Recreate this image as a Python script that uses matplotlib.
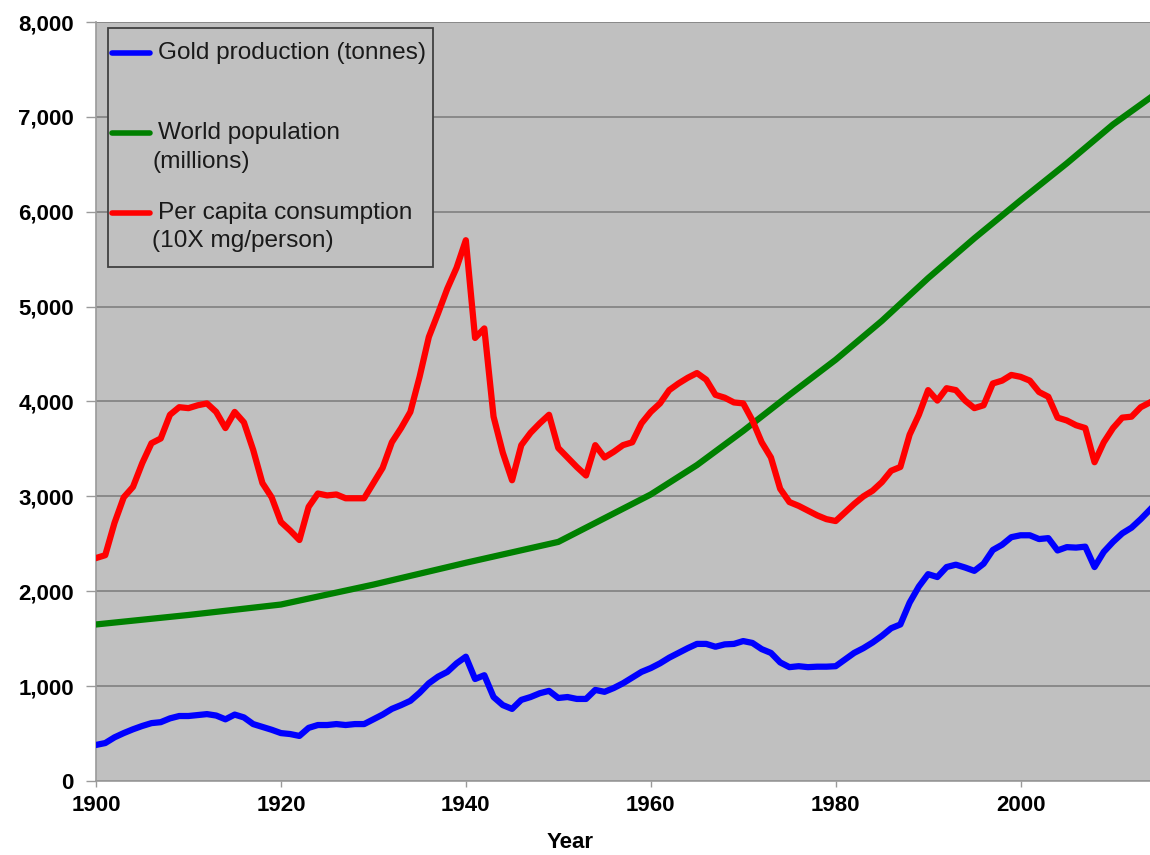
import matplotlib
matplotlib.use("Agg")
import matplotlib.pyplot as plt
from matplotlib.ticker import FuncFormatter, MultipleLocator
from matplotlib.lines import Line2D
from matplotlib.patches import Rectangle

plt.rcParams['font.family'] = ['Liberation Sans', 'DejaVu Sans']

years = list(range(1900, 2015))

gold = [380, 400, 460, 505, 545, 580, 610, 620, 660, 685,
        685, 695, 705, 690, 650, 700, 670, 600, 570, 540,
        505, 495, 475, 560, 590, 590, 600, 590, 600, 600,
        650, 700, 760, 800, 845, 930, 1030, 1100, 1150, 1240,
        1310, 1075, 1115, 885, 800, 760, 855, 885, 925, 950,
        875, 885, 865, 865, 960, 940, 980, 1030, 1090, 1150,
        1190, 1240, 1300, 1350, 1400, 1445, 1445, 1415, 1440, 1445,
        1475, 1455, 1390, 1350, 1250, 1200, 1210, 1200, 1205, 1205,
        1210, 1280, 1350, 1400, 1460, 1530, 1610, 1650, 1880, 2050,
        2180, 2150, 2255, 2280, 2250, 2215, 2290, 2435, 2490, 2570,
        2590, 2590, 2550, 2560, 2430, 2465, 2460, 2470, 2255, 2415,
        2520, 2610, 2670, 2760, 2860]

per_capita = [2350, 2380, 2720, 2990, 3100, 3350, 3560, 3610, 3860, 3940,
              3930, 3960, 3980, 3890, 3720, 3890, 3780, 3490, 3140, 2990,
              2730, 2640, 2540, 2890, 3030, 3010, 3020, 2980, 2980, 2980,
              3140, 3300, 3570, 3720, 3890, 4260, 4680, 4930, 5190, 5410,
              5700, 4670, 4770, 3840, 3460, 3170, 3540, 3670, 3770, 3860,
              3510, 3410, 3310, 3220, 3540, 3410, 3470, 3540, 3570, 3770,
              3890, 3980, 4120, 4190, 4250, 4300, 4230, 4070, 4040, 3990,
              3980, 3800, 3570, 3410, 3080, 2940, 2900, 2850, 2800, 2760,
              2740, 2830, 2920, 3000, 3060, 3150, 3270, 3310, 3650, 3860,
              4120, 4010, 4140, 4120, 4010, 3930, 3960, 4190, 4220, 4280,
              4260, 4220, 4100, 4050, 3830, 3800, 3750, 3720, 3360, 3570,
              3720, 3830, 3840, 3940, 3990]

pop_years = [1900, 1910, 1920, 1930, 1940, 1950, 1955, 1960, 1965, 1970,
             1975, 1980, 1985, 1990, 1995, 2000, 2005, 2010, 2014]
population = [1650, 1750, 1860, 2070, 2300, 2520, 2770, 3020, 3330, 3690,
              4070, 4440, 4850, 5300, 5720, 6120, 6510, 6920, 7200]

x_ticks = [1900, 1920, 1940, 1960, 1980, 2000]

W, H = 1150, 855
fig = plt.figure(figsize=(W / 100, H / 100), dpi=100)
fig.patch.set_facecolor('white')

L, R, T, B = 96, 1150, 22, 781
ax = fig.add_axes([L / W, 1 - B / H, (R - L) / W, (B - T) / H])
ax.set_facecolor('#C0C0C0')

ax.plot(years, gold, color='#0000FF', lw=4.5, solid_joinstyle='round', zorder=3)
ax.plot(pop_years, population, color='#008000', lw=4.5, solid_joinstyle='round', zorder=3)
ax.plot(years, per_capita, color='#FF0000', lw=4.5, solid_joinstyle='round', zorder=3)

ax.set_xlim(1900, 2014)
ax.set_ylim(0, 8000)
ax.set_xticks(x_ticks)
ax.yaxis.set_major_locator(MultipleLocator(1000))
ax.yaxis.set_major_formatter(FuncFormatter(lambda v, p: f"{int(v):,}"))
ax.grid(axis='y', color='#858585', lw=1.3, zorder=1)
ax.set_axisbelow(True)

for s in ['top', 'right']:
    ax.spines[s].set_visible(False)
for s in ['left', 'bottom']:
    ax.spines[s].set_color('#9a9a9a')
    ax.spines[s].set_linewidth(1.2)

ax.tick_params(axis='y', length=7, width=1, color='#9a9a9a', pad=9,
               labelsize=16, labelcolor='black')
ax.tick_params(axis='x', length=4, width=1, color='#9a9a9a', pad=6,
               labelsize=16, labelcolor='black')
for lab in ax.get_xticklabels() + ax.get_yticklabels():
    lab.set_fontweight('bold')

fig.text(570 / W, 1 - 842 / H, 'Year', ha='center', va='center',
         fontsize=16, fontweight='bold', color='black')

# legend box (drawn in figure pixel coordinates)
def fx(px):
    return px / W

def fy(py):
    return 1 - py / H

box = Rectangle((fx(108), fy(267)), fx(433) - fx(108), fy(28) - fy(267),
                transform=fig.transFigure, facecolor='#C0C0C0',
                edgecolor='#404040', lw=1.3, zorder=5)
fig.add_artist(box)

entries = [
    ('#0000FF', 53, [('Gold production (tonnes)', 158, 53)]),
    ('#008000', 133, [('World population', 158, 133), ('(millions)', 152, 162)]),
    ('#FF0000', 213, [('Per capita consumption', 158, 213), ('(10X mg/person)', 152, 241)]),
]
for color, hy, texts in entries:
    fig.add_artist(Line2D([fx(112), fx(150)], [fy(hy), fy(hy)], color=color,
                          lw=4, solid_capstyle='round', transform=fig.transFigure, zorder=6))
    for txt, tx, ty in texts:
        fig.text(fx(tx), fy(ty), txt, ha='left', va='center', fontsize=17.6,
                 color='#1a1a1a', zorder=6)

fig.savefig('out.png', dpi=100)
